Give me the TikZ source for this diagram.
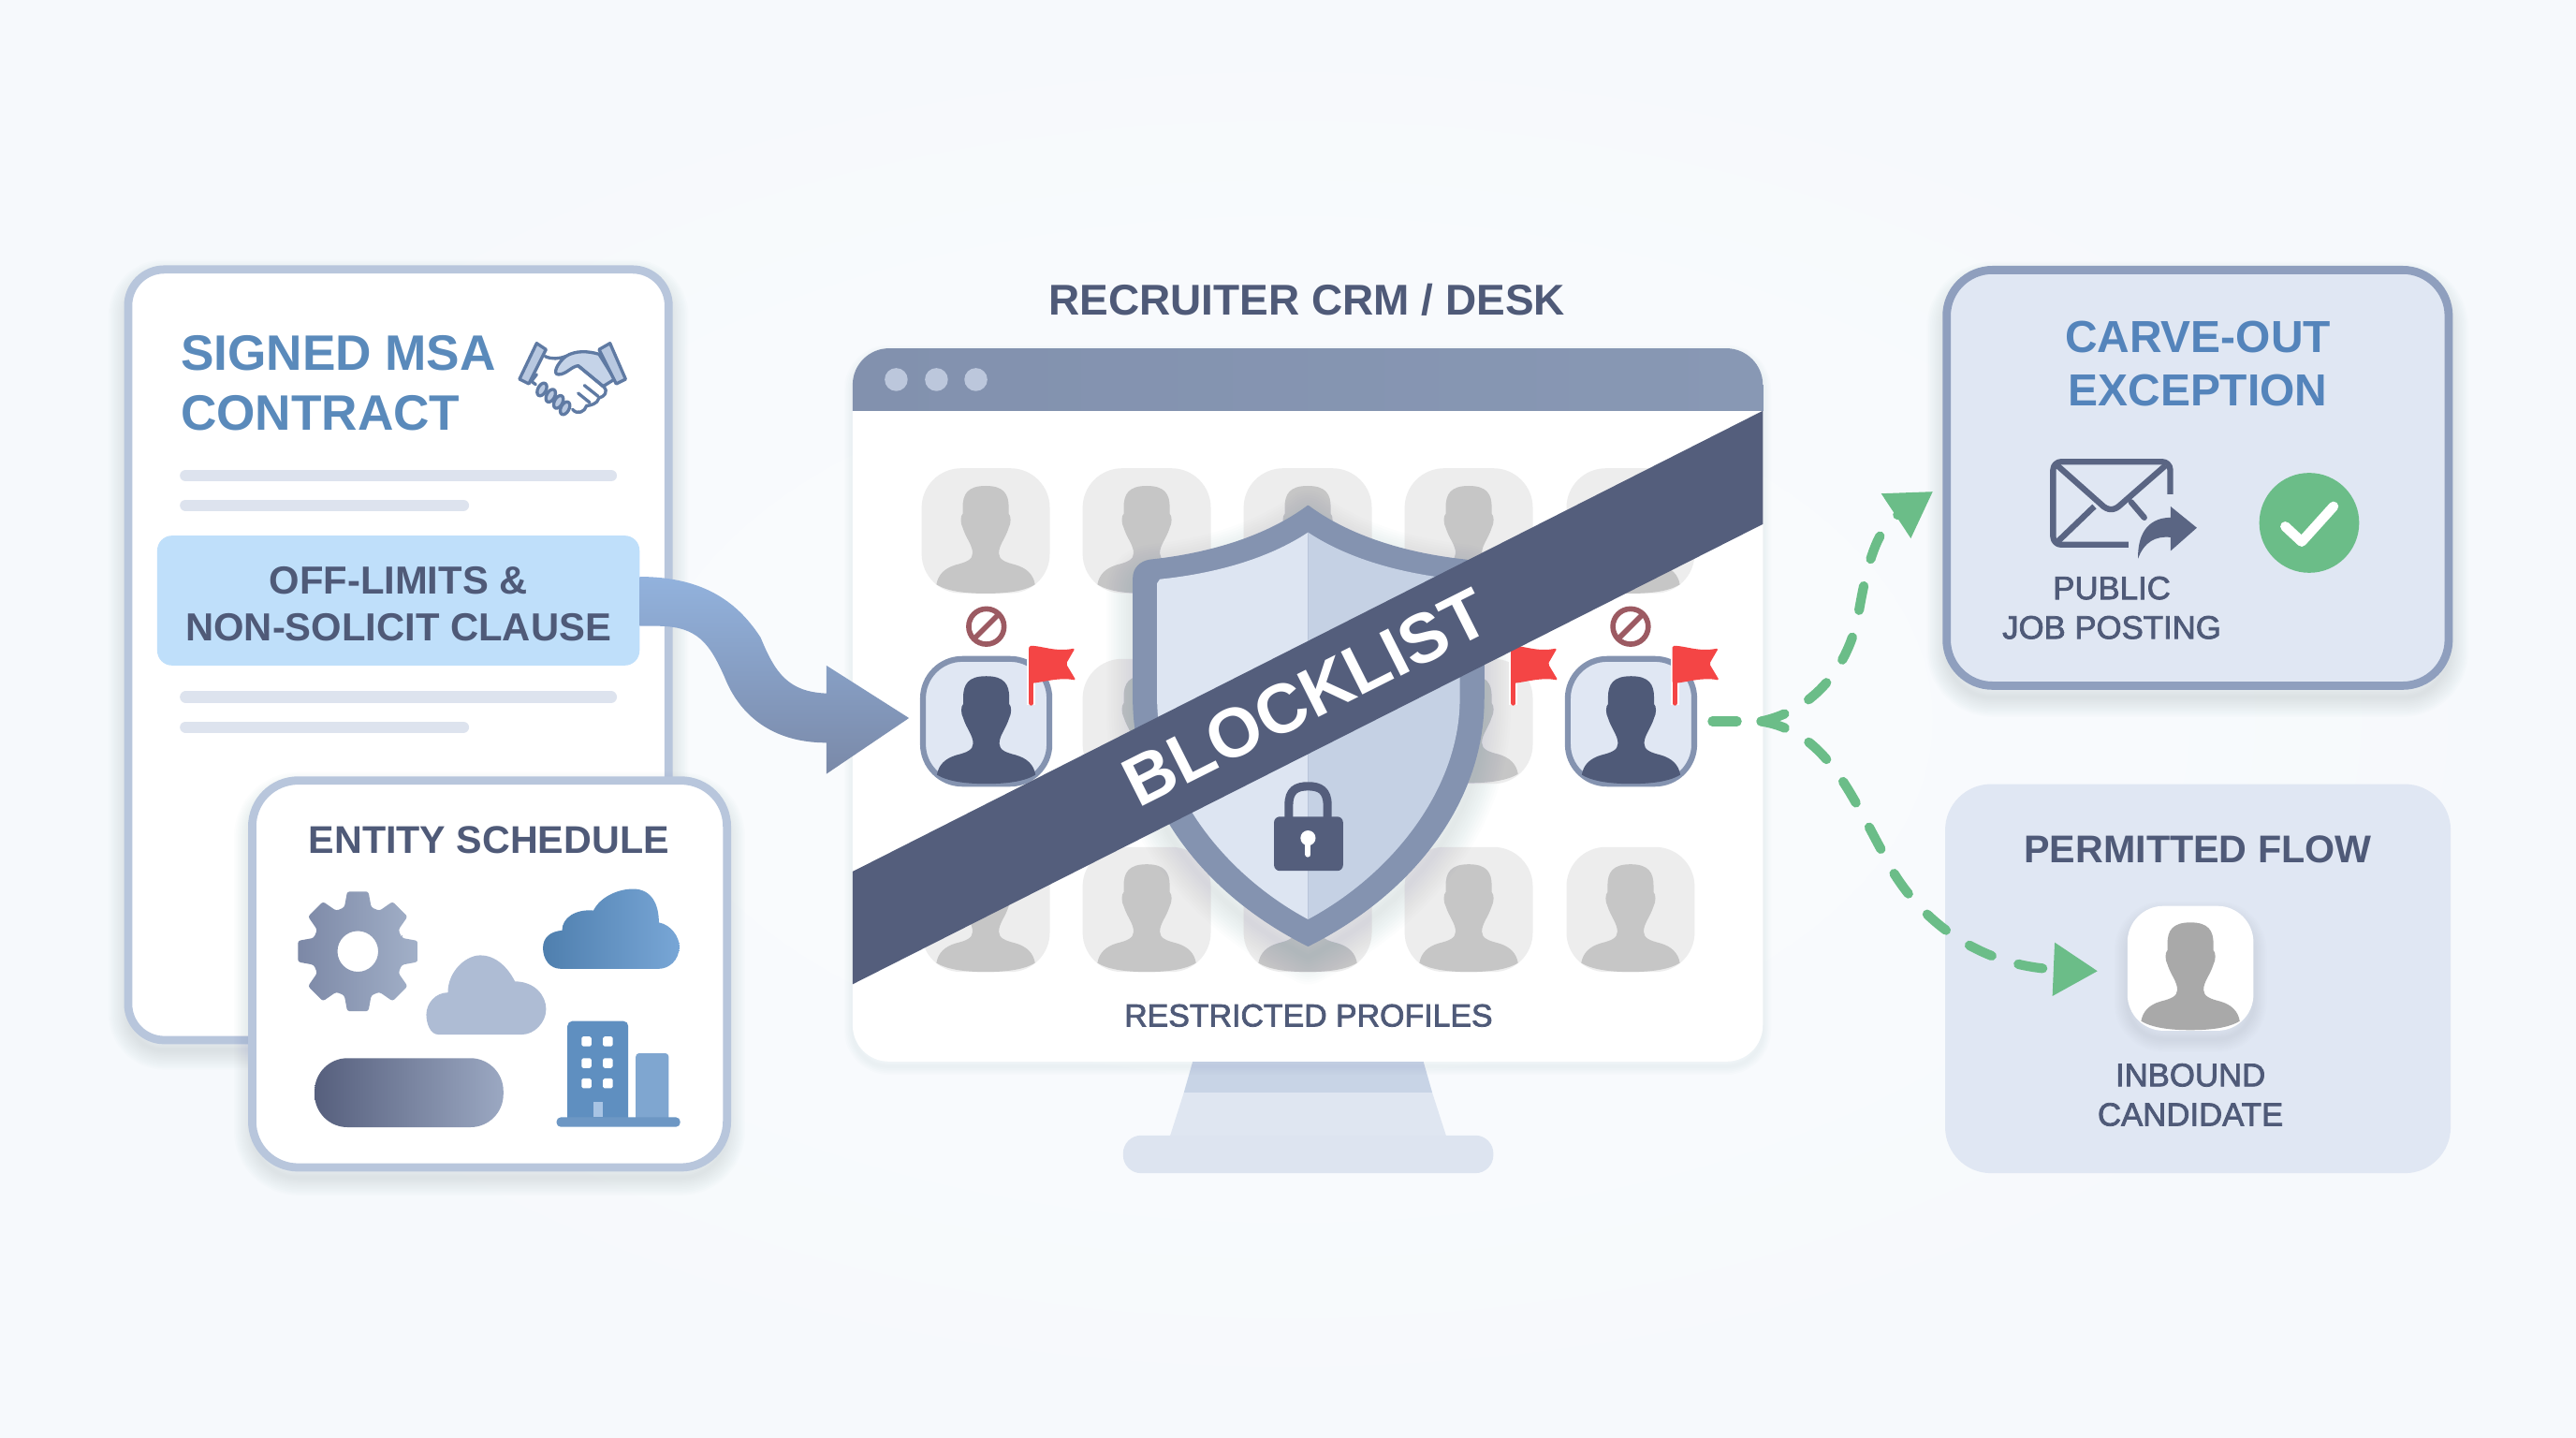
\documentclass[tikz,border=0pt]{standalone}
\usepackage{fontspec}
\setmainfont{Liberation Sans}
\newfontfamily\medf[FakeBold=2.2]{Liberation Sans}
\usetikzlibrary{arrows.meta,calc}
\newcommand\hx[1]{\definecolor{#1}{HTML}{#1}}
\hx{FBFCFE}\hx{F6F9FC}\hx{7C88A6}\hx{A2B0C8}\hx{4F7FAE}\hx{78A6D6}\hx{AEBCD4}\hx{565F7D}\hx{9BA8C2}
\hx{7FA6D0}\hx{5F8FC0}\hx{6D97C4}\hx{A8C4E4}\hx{C8D4E6}\hx{DFE6F1}\hx{DDE4F0}\hx{8291AE}\hx{8898B4}
\hx{BCC7DC}\hx{92B2DD}\hx{8A9EC0}\hx{7A89A8}\hx{DDE5F2}\hx{C5D1E4}\hx{8F9FBE}\hx{5484BB}\hx{5A6583}\hx{A9A9A9}
\definecolor{HS}{HTML}{C5D3E8}\definecolor{HSd}{HTML}{5F7AA3}\definecolor{HSl}{HTML}{B8C8E0}
\definecolor{navy}{HTML}{545E7C}
\definecolor{mid}{HTML}{8493B0}
\definecolor{edge}{HTML}{B8C6DC}
\definecolor{linec}{HTML}{DDE3EE}
\definecolor{blue}{HTML}{5A8ABB}
\definecolor{clausec}{HTML}{BFDFFA}
\definecolor{panel}{HTML}{E0E7F3}
\definecolor{gr}{HTML}{6BBD88}
\definecolor{redf}{HTML}{F44545}
\definecolor{tilec}{HTML}{EDEDED}
\definecolor{persc}{HTML}{C6C6C6}
\definecolor{dark}{HTML}{4F5A78}
\definecolor{shadowc}{HTML}{6F80A5}
\definecolor{banc}{HTML}{9C5A62}
\tikzset{
  x=1pt,y=-1pt,
  plain/.style={inner sep=0pt,outer sep=0pt},
  boxn/.style={plain,rounded corners=#1},
  doc/.style={boxn=22pt,draw=edge,line width=5pt,fill=white},
  card/.style={boxn=28pt,draw=edge,line width=5pt,fill=white},
  greybox/.style={boxn=28pt,fill=panel},
  tile/.style={plain,rounded corners=24pt,fill=tilec,minimum width=78pt,minimum height=76pt},
  blocked/.style={plain,rounded corners=24pt,fill=panel,draw=mid,line width=3.5pt,minimum width=77pt,minimum height=76pt},
  noent/.style={plain,circle,draw=banc,line width=3.2pt,minimum size=21.5pt},
  greendash/.style={draw=gr,line width=5.8pt,line cap=round,dash pattern=on 15pt off 17pt},
  gtip/.style={-{Triangle[length=27pt,width=31pt,fill=gr,color=gr]}},
  ttl/.style={plain,text=dark,font=\bfseries\fontsize{#1}{#1}\selectfont},
  btl/.style={plain,text=blue,align=center,font=\bfseries\fontsize{#1}{#1}\selectfont},
  lbl/.style={plain,text=dark,align=center,font=\medf\fontsize{19.8}{24}\selectfont},
}
\newcommand\bx[6][]{%
  \pgfmathsetmacro\cxx{(#3+#5)/2}\pgfmathsetmacro\cyy{(#4+#6)/2}%
  \pgfmathsetmacro\wxx{#5-#3}\pgfmathsetmacro\hyy{#6-#4}%
  \node[#1,minimum width=\wxx pt,minimum height=\hyy pt] (#2) at (\cxx,\cyy) {};}
\newcommand\softbox[7]{% x1 y1 x2 y2 r dy spread
  \foreach \w in {2,4,...,#7}{%
    \draw[rounded corners=#5pt,line width=\w pt,draw=shadowc,opacity=.014]
      (#1,#2+#6) rectangle (#3,#4+#6);}}
\newcommand\person[3]{%
  \fill[#3,shift={(#1,#2)}]
   (0,0) .. controls (-11,0) and (-14,5) .. (-14,13) -- (-14,17)
   .. controls (-15.5,18) and (-15.5,23) .. (-14,25.5)
   .. controls (-12,32) and (-8,36) .. (-8,41)
   .. controls (-8,45) and (-12,46.5) .. (-18,48)
   .. controls (-25,50) and (-29,54) .. (-30,60)
   .. controls (-22,65) and (-8,65.5) .. (0,65.5)
   .. controls (8,65.5) and (22,65) .. (30,60)
   .. controls (29,54) and (25,50) .. (18,48)
   .. controls (12,46.5) and (8,45) .. (8,41)
   .. controls (8,36) and (12,32) .. (14,25.5)
   .. controls (15.5,23) and (15.5,18) .. (14,17) -- (14,13)
   .. controls (14,5) and (11,0) .. (0,0) -- cycle;}
\newcommand\redflag[2]{%
  \begin{scope}[shift={(#1,#2)}]
  \draw[white,line width=5pt] (1.4,6) -- (1.4,36);
  \draw[redf,line width=2.8pt,line cap=round] (1.4,2) -- (1.4,35);
  \fill[redf,rounded corners=1pt] (0,0) .. controls (8,0) and (16,4) .. (28,1.5)
     -- (22.5,11) -- (28.5,21) .. controls (18,19) and (10,22) .. (0,23) -- cycle;
  \end{scope}}
\newcommand\shieldO{(796.2,308) .. controls (772,326) and (738,337) .. (700,341)
  .. controls (694,342) and (690,346) .. (690,352) -- (690,425)
  .. controls (690,490) and (735,545) .. (796.2,575.5)
  .. controls (857.4,545) and (903,490) .. (903,425) -- (903,352)
  .. controls (903,346) and (898.4,342) .. (892.4,341)
  .. controls (854.4,337) and (820.4,326) .. (796.2,308) -- cycle}
\begin{document}
\begin{tikzpicture}
\useasboundingbox (0,0) rectangle (1568,875.16);
\shade[inner color=FBFCFE,outer color=F6F9FC] (0,0) rectangle (1568,875.16);
%
% ---- contract sheet
\softbox{78}{164}{407}{633}{22}{6}{24}
\bx[doc]{sheet}{78}{164}{407}{633}
\node[plain,anchor=west,align=left,text=blue,font=\bfseries\fontsize{30.3}{36.5}\selectfont] (msa) at (110,233) {SIGNED MSA\\CONTRACT};
\foreach \ya/\xb in {289.5/375.5,307.5/285.5,424.2/375.5,442.5/285.5}
  \draw[linec,line width=7pt,line cap=round] (113,\ya) -- (\xb-3.5,\ya);
\node[plain,rounded corners=9pt,fill=clausec,minimum width=293.6pt,minimum height=79pt,text=dark,align=center,font=\bfseries\fontsize{23.8}{28.4}\selectfont] (clause) at (242.5,365.5) {\rule{0pt}{21pt}OFF-LIMITS \&\\NON-SOLICIT CLAUSE};
%
% handshake
\begin{scope}[shift={(310.5,199.4)},x=.19pt,y=-.19pt,line width=1.9pt,line join=round,line cap=round]
  \fill[fill=HS,draw=HSd] (178,92) .. controls (150,115) and (135,150) .. (155,150)
     .. controls (180,150) and (195,125) .. (218,122) -- (298,188) -- (335,165) -- (285,85)
     .. controls (250,75) and (210,72) .. (178,92) -- cycle;
  \draw[HSd] (112,92) .. controls (135,102) and (155,100) .. (178,92);
  \draw[HSd] (85,150) -- (68,172) -- (82,182);
  \draw[HSd] (218,122) -- (298,188) .. controls (318,205) and (300,222) .. (285,225)
     .. controls (280,245) and (255,250) .. (245,250) .. controls (240,270) and (215,280) .. (200,262);
  \draw[HSd] (238,185) -- (282,220);
  \draw[HSd] (218,210) -- (255,240);
  \foreach \ex/\ey in {102/198,130/218,155/238,176/258}
    \draw[fill=HSl,draw=HSd,rotate around={62:(\ex,\ey)}] (\ex,\ey) ellipse (22 and 13);
  \fill[fill=HSl,draw=HSd] (85,50) -- (115,70) -- (60,180) -- (30,165) -- cycle;
  \fill[fill=HSl,draw=HSd] (285,70) -- (320,50) -- (370,165) -- (340,180) -- cycle;
\end{scope}
%
% ---- entity card
\softbox{153.5}{475}{442.5}{710.5}{28}{6}{22}
\bx[card]{entity}{153.5}{475}{442.5}{710.5}
\node[ttl=23.5,anchor=base] (entt) at (297.6,519.3) {ENTITY SCHEDULE};
\begin{scope}[shift={(217.8,579)}]
  \shade[left color=7C88A6,right color=A2B0C8,even odd rule,rounded corners=1.5pt]
    (-17:28) foreach \a in {0,45,...,315}{ -- (\a-17:28) -- (\a-10:37) -- (\a+10:37) -- (\a+17:28) } -- cycle
    (0,0) circle (12.4);
\end{scope}
\begin{scope}[shift={(330.5,541)},x=83pt,y=-48.6pt]
  \shade[left color=4F7FAE,right color=78A6D6]
   (.13,1) .. controls (.05,1) and (0,.88) .. (0,.74) .. controls (0,.6) and (.06,.53) .. (.14,.52)
   .. controls (.14,.36) and (.24,.25) .. (.37,.27) .. controls (.42,.1) and (.55,0) .. (.66,0)
   .. controls (.8,0) and (.85,.2) .. (.85,.42) .. controls (.94,.45) and (1,.6) .. (1,.72)
   .. controls (1,.9) and (.92,1) .. (.85,1) -- cycle;
\end{scope}
\begin{scope}[shift={(259.5,581.4)},x=72.9pt,y=-48.2pt]
  \fill[AEBCD4]
   (.1,1) .. controls (.03,1) and (0,.85) .. (0,.75) .. controls (0,.6) and (.08,.47) .. (.18,.47)
   .. controls (.18,.2) and (.33,0) .. (.45,0) .. controls (.58,0) and (.68,.15) .. (.74,.33)
   .. controls (.9,.33) and (1,.5) .. (1,.68) .. controls (1,.85) and (.9,1) .. (.8,1) -- cycle;
\end{scope}
\shade[left color=565F7D,right color=9BA8C2,rounded corners=20pt] (191.5,644) rectangle (306.4,686);
\fill[7FA6D0,rounded corners=2pt] (387,641) rectangle (407,685);
\fill[5F8FC0,rounded corners=3pt] (345.4,621.4) rectangle (382.4,685);
\fill[6D97C4,rounded corners=2.5pt] (338.8,680) rectangle (414,685.8);
\foreach \wy in {630.8,644,656.3} \foreach \wx in {354,367} \fill[white,rounded corners=1pt] (\wx,\wy) rectangle +(6,6);
\fill[A8C4E4] (361,670.8) rectangle (367,680);
%
% ---- monitor
\fill[C8D4E6] (726,646) -- (866.4,646) -- (871.8,665) -- (720.6,665) -- cycle;
\fill[DFE6F1] (720.6,665) -- (871.8,665) -- (880.5,692) -- (712,692) -- cycle;
\fill[DDE4F0,rounded corners=11pt] (683.6,691) rectangle (909,714);
\softbox{519}{212}{1073}{646}{22}{3}{10}
\bx[boxn=22pt,fill=white]{screen}{519}{212}{1073}{646}
\shade[left color=8291AE,right color=8898B4] (519,250) -- (519,234) .. controls (519,222) and (529,212) .. (541,212) -- (1051,212) .. controls (1063,212) and (1073,222) .. (1073,234) -- (1073,250) -- cycle;
\foreach \dx in {545.5,570,594} \fill[BCC7DC] (\dx,231) circle (7);
\node[ttl=26.2,anchor=base] (crm) at (795.5,191.5) {RECRUITER CRM / DESK};
\node[ttl=19.3,font=\medf\fontsize{19.3}{24}\selectfont,anchor=base] (restr) at (796.5,624.7) {RESTRICTED PROFILES};
%
% tiles
\foreach \c/\cx in {1/600,2/698,3/796,4/894,5/992.5}{
  \node[tile] (t\c1) at (\cx,323) {};
  \person{\cx}{295.7}{persc}
  \node[tile] (t\c3) at (\cx,553.5) {};
  \person{\cx}{526}{persc}
}
\foreach \c/\cx in {2/698,3/796,4/894}{
  \node[tile] (t\c2) at (\cx,439) {};
  \person{\cx}{411}{persc}
}
\foreach \c/\cx in {1/600.3,5/992.8}{
  \node[blocked] (t\c2) at (\cx,439) {};
  \person{\cx}{411.5}{dark}
}
\redflag{919.8}{393}
\redflag{626.4}{393}
\redflag{1018}{393}
\foreach \nm/\nx in {noa/600.4,nob/992.5}{
  \node[noent] (\nm) at (\nx,381.3) {};
  \draw[banc,line width=3.2pt] (\nm.225) -- (\nm.45);
}
%
% connector ribbon
\shade[top color=92B2DD,middle color=8A9EC0,bottom color=7A89A8]
  ($(clause.east)+(0,-14.5)$) .. controls (430,351) and (450,368) .. (463,388)
  .. controls (472,410) and (480,421) .. (503,422) -- (503,405)
  -- ($(t12.west)+(-8.5,-2)$) -- (503,471) -- (503,452)
  .. controls (470,452) and (450,435) .. (441,412)
  .. controls (432,392) and (425,381) .. (400,381)
  -- ($(clause.east)+(0,15.5)$) -- cycle;
%
% shield
\foreach \w in {3,6,...,33}
  \draw[shadowc,opacity=.016,line width=\w pt,line join=round,shift={(0,7)}] \shieldO;
\fill[mid,draw=mid,line width=1pt,line join=round] \shieldO;
\fill[DDE5F2] (796.2,324) .. controls (772,340) and (740,349) .. (706,352.5) -- (704.3,355) -- (704.3,425)
   .. controls (704.3,480) and (745,532) .. (796.2,559.5) -- cycle;
\fill[C5D1E4] (796.2,324) .. controls (820.4,340) and (852.4,349) .. (886.4,352.5) -- (888.6,355) -- (888.6,425)
   .. controls (888.6,480) and (847.4,532) .. (796.2,559.5) -- cycle;
\draw[navy,line width=5.2pt] (784.5,500) -- (784.5,490) .. controls (784.5,481) and (789,478.5) .. (796.2,478.5)
   .. controls (803.4,478.5) and (808,481) .. (808,490) -- (808,500);
\fill[navy,rounded corners=3.5pt] (775.5,497) rectangle (817.5,530);
\fill[white] (796.2,510) circle (4.6);
\draw[white,line width=3.4pt,line cap=round] (796.2,510) -- (796.2,520);
%
% band
\fill[navy] (519,530.4) -- (1073,250) -- (1073,319) -- (519,599) -- cycle;
\node[plain,text=white,rotate=26.7,font=\bfseries\fontsize{42.3}{44}\selectfont] (blocklist) at (794.5,424.5) {BLOCKLIST};
%
% ---- carve-out
\softbox{1184.9}{164.3}{1490.5}{417.3}{28}{7}{24}
\bx[boxn=28pt,draw=8F9FBE,line width=5pt,fill=panel]{carve}{1184.9}{164.3}{1490.5}{417.3}
\node[btl=27.3,text=5484BB,font=\bfseries\fontsize{27.3}{32.6}\selectfont] (carvet) at (1337.8,221.3) {CARVE-OUT\\EXCEPTION};
\begin{scope}[line width=3.6pt,line join=round]
  \draw[5A6583,rounded corners=5pt] (1321,300.8) -- (1321,281) -- (1249.7,281) -- (1249.7,331.5) -- (1295.6,331.5);
  \draw[5A6583] (1252.4,283.4) -- (1279,307) .. controls (1283,311) and (1287,311) .. (1291,307) -- (1318,283.4);
  \draw[5A6583] (1252.4,329.7) -- (1274.8,308.2);
  \draw[5A6583,line cap=round] (1297.2,305.6) -- (1305.2,315);
\end{scope}
\fill[5A6583] (1301.4,340) .. controls (1301,322) and (1310,315) .. (1321.2,315) -- (1321.2,308.2) -- (1337.2,321.2) -- (1321.2,335.3) -- (1321.2,327) .. controls (1312,326) and (1305,330) .. (1301.4,340) -- cycle;
\node[fill=gr,circle,plain,minimum size=60.8pt] (okc) at (1405.6,318.2) {};
\draw[white,line width=6pt,line cap=round,line join=round] (1391,320.4) -- (1401,329.7) -- (1420.4,308.2);
\node[lbl] (pub) at (1285.4,369.9) {PUBLIC\\JOB POSTING};
%
% ---- permitted flow
\bx[greybox]{permit}{1184}{477.2}{1491.7}{714}
\node[ttl=23.5,anchor=base] (permt) at (1337.8,525) {PERMITTED FLOW};
\softbox{1295}{551.4}{1371.7}{627.3}{22}{5}{16}
\node[plain,rounded corners=22pt,fill=white,minimum width=76.7pt,minimum height=75.9pt] (cand) at (1333.3,589.3) {};
\person{1333.3}{561.4}{A9A9A9}
\node[lbl] (inb) at (1333.3,666.3) {INBOUND\\CANDIDATE};
%
% ---- green connectors
\coordinate (fork) at (1072,439);
\draw[greendash,shorten <=11pt] (t52.east) -- (fork);
\draw[greendash,gtip] (fork) .. controls (1105,432) and (1125,405) .. (1131,375)
   .. controls (1136,345) and (1142,322) .. ($(carve.west)+(-8.3,8.3)$);
\draw[greendash,gtip] (fork) .. controls (1110,445) and (1125,480) .. (1145,517)
   .. controls (1165,560) and (1205,588) .. ($(cand.west)+(-18,1.7)$);
\end{tikzpicture}
\end{document}
